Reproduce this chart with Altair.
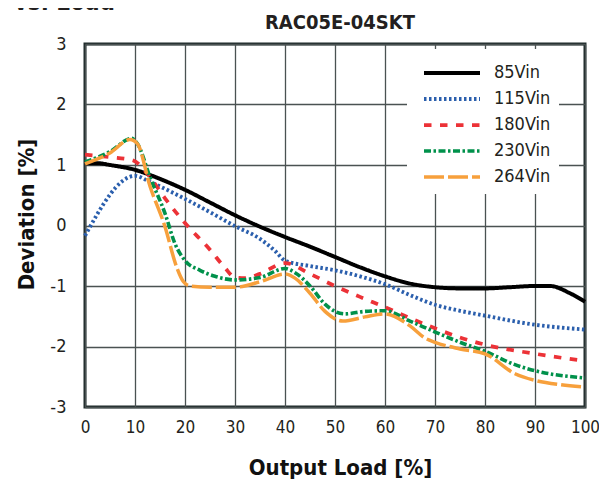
import altair as alt
import pandas as pd

FONT = "Liberation Sans Narrow, DejaVu Sans Condensed, Arial Narrow, sans-serif"

series = ["85Vin", "115Vin", "180Vin", "230Vin", "264Vin"]
colors = ["#000000", "#2b5fad", "#ec3237", "#00914b", "#f7a03c"]
dashes = [[1, 0], [2.5, 2.5], [7.5, 8.5], [7, 2.5, 2.5, 2.5], [20, 4]]
widths = [4, 3.5, 3.5, 3.5, 3.5]

x85 = [0, 2.5, 5, 10, 15, 20, 25, 30, 35, 40, 45, 50, 55, 60, 65, 70, 75, 80, 85, 90, 93, 97, 100]
y85 = [1.03, 1.03, 1.0, 0.92, 0.77, 0.59, 0.38, 0.17, -0.02, -0.19, -0.35, -0.52, -0.69, -0.84,
       -0.96, -1.02, -1.04, -1.04, -1.02, -1.0, -1.0, -1.12, -1.26]

x115 = [0, 10, 13, 20, 25, 30, 35, 38, 40, 45, 50, 55, 60, 65, 70, 75, 80, 90, 100]
y115 = [-0.17, 0.82, 0.72, 0.44, 0.22, -0.01, -0.22, -0.42, -0.58, -0.67, -0.74, -0.84, -0.97,
        -1.15, -1.31, -1.41, -1.49, -1.64, -1.72]

x180 = [0, 5, 9.5, 13, 16, 20, 25, 28, 30, 32, 35, 40, 45, 50, 55, 60, 65, 70, 75, 80, 90, 100]
y180 = [1.17, 1.13, 1.08, 0.8, 0.45, 0.04, -0.4, -0.7, -0.86, -0.87, -0.8, -0.62, -0.8, -1.0,
        -1.18, -1.35, -1.53, -1.7, -1.85, -1.97, -2.12, -2.24]

x230 = [0, 5, 9.3, 10.5, 13, 16, 18, 20, 23, 26, 30, 35, 40, 42, 45, 48, 50, 52, 56, 60, 65, 70,
        75, 80, 86, 90, 100]
y230 = [1.05, 1.22, 1.44, 1.35, 0.8, 0.2, -0.3, -0.58, -0.74, -0.84, -0.9, -0.86, -0.71, -0.78,
        -1.0, -1.3, -1.42, -1.46, -1.42, -1.41, -1.58, -1.76, -1.93, -2.08, -2.3, -2.4, -2.52]

x264 = [0, 5, 9, 10.5, 13, 16, 18.3, 19.7, 21, 25, 30, 35, 40, 42, 45, 48, 51.6, 56, 60, 65, 68,
        70, 75, 80, 86, 90, 95, 100]
y264 = [1.02, 1.2, 1.42, 1.35, 0.65, -0.02, -0.68, -0.93, -1.0, -1.02, -1.02, -0.93, -0.8, -0.87,
        -1.12, -1.42, -1.58, -1.51, -1.46, -1.66, -1.86, -1.93, -2.04, -2.12, -2.45, -2.56, -2.63,
        -2.67]

x_ticks = list(range(0, 101, 10))
y_ticks = [-3, -2, -1, 0, 1, 2, 3]

rows = []
for name, xs, ys in zip(series, [x85, x115, x180, x230, x264], [y85, y115, y180, y230, y264]):
    for i, (a, b) in enumerate(zip(xs, ys)):
        rows.append({"series": name, "load": a, "dev": b, "order": i})
df = pd.DataFrame(rows)

W, H = 500, 363

lines = alt.Chart(df).mark_line(interpolate="monotone").encode(
    x=alt.X("load:Q", scale=alt.Scale(domain=[0, 100], nice=False),
            axis=alt.Axis(values=x_ticks, labelFontSize=17, labelFont=FONT, labelColor="#231f20",
                          labelPadding=12, domain=False, ticks=False, labelExpr="'' + datum.value",
                          labelFlush=False, labelOverlap=False,
                          gridColor="#4a5252", gridWidth=1.3,
                          title="Output Load [%]", titleFont=FONT, titleFontSize=22,
                          titleFontWeight="bold", titleColor="#111",
                          titleX=255, titleY=67, titleBaseline="alphabetic")),
    y=alt.Y("dev:Q", scale=alt.Scale(domain=[-3, 3], nice=False),
            axis=alt.Axis(values=y_ticks, labelFontSize=18, labelFont=FONT, labelColor="#231f20",
                          labelPadding=19, domain=False, ticks=False, labelExpr="'' + datum.value",
                          labelFlush=False, labelOverlap=False,
                          gridColor="#4a5252", gridWidth=1.3,
                          title="Deviation [%]", titleFont=FONT, titleFontSize=22,
                          titleFontWeight="bold", titleColor="#111",
                          titleX=-52, titleY=170, titleAngle=-90, titleBaseline="alphabetic")),
    color=alt.Color("series:N", scale=alt.Scale(domain=series, range=colors),
                    legend=alt.Legend(orient="none", legendX=322, legendY=5, title=None,
                                      fillColor="white", padding=8, symbolType="M-0.5,0H3.5",
                                      symbolSize=784, symbolStrokeWidth=4,
                                      labelFontSize=18, labelFont=FONT, labelColor="#231f20",
                                      labelOffset=47, rowPadding=1)),
    strokeDash=alt.StrokeDash("series:N", scale=alt.Scale(domain=series, range=dashes), legend=None),
    strokeWidth=alt.StrokeWidth("series:N", scale=alt.Scale(domain=series, range=widths), legend=None),
    order="order:Q",
)

title_txt = alt.Chart(alt.Data(values=[{"t": "RAC05E-04SKT"}])).mark_text(
    font=FONT, fontSize=20, fontWeight="bold", color="#231f20", align="center", baseline="alphabetic"
).encode(x=alt.value(255), y=alt.value(-15), text="t:N")

cut_txt = alt.Chart(alt.Data(values=[{"t": "Deviation vs. Load"}])).mark_text(
    font=FONT, fontSize=24, fontWeight="bold", color="#231f20", align="right", baseline="alphabetic"
).encode(x=alt.value(30), y=alt.value(-34), text="t:N")

chart = alt.layer(lines, title_txt, cut_txt).properties(
    width=W, height=H,
    autosize=alt.AutoSizeParams(type="none"),
    padding={"left": 77, "top": 36, "right": 14, "bottom": 72},
).configure_view(stroke="#1e2a2a", strokeWidth=3)

chart.save("out.html", embed_options={"renderer": "svg", "actions": False})
